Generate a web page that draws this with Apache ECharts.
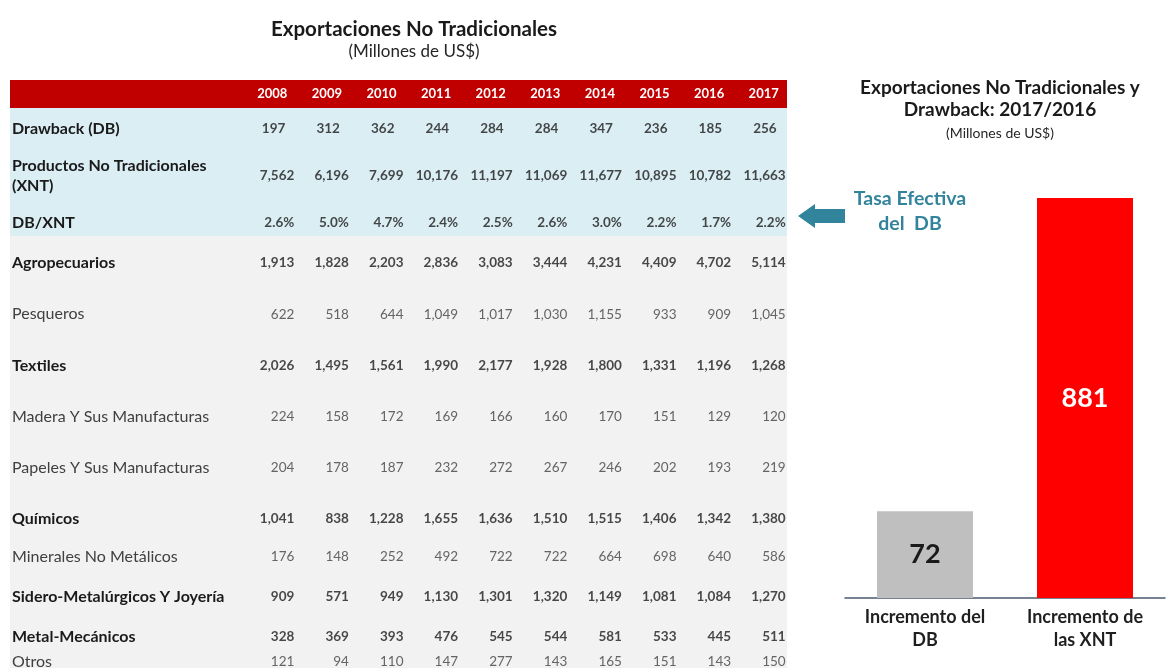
<!DOCTYPE html>
<html>
<head>
<meta charset="utf-8">
<title>Exportaciones No Tradicionales</title>
<script src="https://cdn.jsdelivr.net/npm/echarts/dist/echarts.min.js"></script>
<style>
  html, body { margin: 0; padding: 0; background: #fff; }
  #chart { width: 1174px; height: 668px; }
</style>
</head>
<body>
<div id="chart"></div>
<script>
// 数据
const years = ['2008', '2009', '2010', '2011', '2012', '2013', '2014', '2015', '2016', '2017'];
const rowNames = [
  'Drawback (DB)', 'Productos No Tradicionales\n(XNT)', 'DB/XNT',
  'Agropecuarios', 'Pesqueros', 'Textiles', 'Madera Y Sus Manufacturas', 'Papeles Y Sus Manufacturas', 'Químicos',
  'Minerales No Metálicos', 'Sidero-Metalúrgicos Y Joyería', 'Metal-Mecánicos', 'Otros'
];
const drawback = [197, 312, 362, 244, 284, 284, 347, 236, 185, 256];
const xnt = [7562, 6196, 7699, 10176, 11197, 11069, 11677, 10895, 10782, 11663];
const dbXnt = [2.6, 5.0, 4.7, 2.4, 2.5, 2.6, 3.0, 2.2, 1.7, 2.2];
const agropecuarios = [1913, 1828, 2203, 2836, 3083, 3444, 4231, 4409, 4702, 5114];
const pesqueros = [622, 518, 644, 1049, 1017, 1030, 1155, 933, 909, 1045];
const textiles = [2026, 1495, 1561, 1990, 2177, 1928, 1800, 1331, 1196, 1268];
const madera = [224, 158, 172, 169, 166, 160, 170, 151, 129, 120];
const papeles = [204, 178, 187, 232, 272, 267, 246, 202, 193, 219];
const quimicos = [1041, 838, 1228, 1655, 1636, 1510, 1515, 1406, 1342, 1380];
const minerales = [176, 148, 252, 492, 722, 722, 664, 698, 640, 586];
const sidero = [909, 571, 949, 1130, 1301, 1320, 1149, 1081, 1084, 1270];
const metalMecanicos = [328, 369, 393, 476, 545, 544, 581, 533, 445, 511];
const otros = [121, 94, 110, 147, 277, 143, 165, 151, 143, 150];
const rowValues = [drawback, xnt, dbXnt, agropecuarios, pesqueros, textiles, madera, papeles,
  quimicos, minerales, sidero, metalMecanicos, otros];

const barCategories = ['Incremento del\nDB', 'Incremento de\nlas XNT'];
const barValues = [72, 881];

// 样式
const FONT = 'Lato, "Open Sans", sans-serif';
const normalRows = ['Pesqueros', 'Madera Y Sus Manufacturas', 'Papeles Y Sus Manufacturas', 'Minerales No Metálicos', 'Otros'];
const barColors = ['#bfbfbf', '#ff0000'];
const barLabelColors = ['#1a1a1a', '#ffffff'];
const teal = '#31849b';

// 表格的行分组（每组一个 grid）
const rowGroups = [
  { from: 0, to: 3, top: 105.5, height: 141 },
  { from: 3, to: 9, top: 237.4, height: 307.2 },
  { from: 9, to: 12, top: 537, height: 120 },
  { from: 12, to: 13, top: 649.5, height: 25 }
];
const tableLeft = 245;
const tableRight = 383;

function fmt(rowIdx, v) {
  if (rowIdx === 2) return v.toFixed(1) + '%';
  return v.toLocaleString('en-US');
}

(function () {
  const myChart = echarts.init(document.getElementById('chart'));
  const grid = [], xAxis = [], yAxis = [], series = [];

  rowGroups.forEach((g, gi) => {
    grid.push({
      left: tableLeft, right: tableRight, top: g.top, height: g.height,
      containLabel: false, outerBoundsMode: 'none'
    });
    xAxis.push({
      gridIndex: gi,
      type: 'category',
      data: years,
      position: 'top',
      axisLine: { show: false },
      axisTick: { show: false },
      axisLabel: {
        show: gi === 0,
        interval: 0,
        margin: 5,
        color: '#fff',
        fontWeight: 'bold',
        fontSize: 13,
        fontFamily: FONT
      }
    });
    const names = rowNames.slice(g.from, g.to);
    yAxis.push({
      gridIndex: gi,
      type: 'category',
      inverse: true,
      data: names.map(n => {
        const normal = normalRows.includes(n);
        return {
          value: n,
          textStyle: {
            align: 'left',
            fontWeight: normal ? 'normal' : 'bold',
            color: normal ? '#404040' : '#1a1a1a'
          }
        };
      }),
      axisLine: { show: false },
      axisTick: { show: false },
      axisLabel: {
        interval: 0,
        align: 'left',
        margin: tableLeft - 12,
        fontSize: 16,
        lineHeight: 20,
        fontFamily: FONT
      }
    });
    const data = [];
    names.forEach((n, ri) => {
      const rowIdx = g.from + ri;
      const normal = normalRows.includes(n);
      rowValues[rowIdx].forEach((v, yi) => {
        data.push({
          value: [yi, ri, v],
          label: {
            fontWeight: normal ? 'normal' : 'bold',
            color: normal ? '#404040' : '#1a1a1a',
            offset: [rowIdx === 0 ? 13 : 22, 0],
            formatter: fmt(rowIdx, v)
          }
        });
      });
    });
    series.push({
      type: 'scatter',
      xAxisIndex: gi,
      yAxisIndex: gi,
      symbol: 'rect',
      symbolSize: 1,
      itemStyle: { color: 'transparent' },
      silent: true,
      label: {
        show: true,
        position: 'inside',
        align: 'right',
        verticalAlign: 'middle',
        fontSize: 13.5,
        fontFamily: FONT
      },
      data: data
    });
  });

  // 右侧柱状图
  const bi = rowGroups.length;
  grid.push({ left: 845, right: 9, top: 198, bottom: 70, containLabel: false, outerBoundsMode: 'none' });
  xAxis.push({
    gridIndex: bi,
    type: 'category',
    data: barCategories,
    axisLine: { lineStyle: { color: '#4a5a70', width: 1.5 } },
    axisTick: { show: false },
    axisLabel: {
      interval: 0,
      margin: 8,
      color: '#1f1f1f',
      fontWeight: 'bold',
      fontSize: 18,
      lineHeight: 23,
      fontFamily: FONT
    }
  });
  yAxis.push({ gridIndex: bi, type: 'log', min: 36, max: 881, show: false, splitLine: { show: false } });
  series.push({
    type: 'bar',
    xAxisIndex: bi,
    yAxisIndex: bi,
    barWidth: 96,
    clip: true,
    label: {
      show: true,
      position: 'inside',
      fontSize: 27,
      fontWeight: 'bold',
      fontFamily: FONT
    },
    data: barValues.map((v, i) => ({
      value: v,
      itemStyle: { color: barColors[i] },
      label: { color: barLabelColors[i] }
    }))
  });

  const option = {
    animation: false,
    textStyle: { fontFamily: FONT },
    grid, xAxis, yAxis, series,
    graphic: [
      // 表格底色
      { type: 'rect', z: -10, shape: { x: 10, y: 80, width: 777, height: 28 }, style: { fill: '#c00000' } },
      { type: 'rect', z: -10, shape: { x: 10, y: 108, width: 777, height: 128 }, style: { fill: '#dbeef4' } },
      { type: 'rect', z: -10, shape: { x: 10, y: 236, width: 777, height: 432 }, style: { fill: '#f2f2f2' } },
      // 标题
      { type: 'text', x: 414, y: 29, style: { text: 'Exportaciones No Tradicionales', font: 'bold 20.5px ' + FONT, fill: '#1a1a1a', align: 'center', verticalAlign: 'middle' } },
      { type: 'text', x: 414, y: 52, style: { text: '(Millones de US$)', font: '17px ' + FONT, fill: '#262626', align: 'center', verticalAlign: 'middle' } },
      { type: 'text', x: 1000, y: 99, style: { text: 'Exportaciones No Tradicionales y\nDrawback: 2017/2016', font: 'bold 19px ' + FONT, lineHeight: 22, fill: '#1a1a1a', align: 'center', verticalAlign: 'middle' } },
      { type: 'text', x: 1000, y: 133, style: { text: '(Millones de US$)', font: '14px ' + FONT, fill: '#262626', align: 'center', verticalAlign: 'middle' } },
      // 注释箭头
      { type: 'polygon', shape: { points: [[798, 216], [815, 204], [815, 209], [845, 209], [845, 223], [815, 223], [815, 228]] }, style: { fill: teal } },
      { type: 'text', x: 910, y: 211, style: { text: 'Tasa Efectiva\ndel  DB', font: 'bold 19.5px ' + FONT, lineHeight: 25, fill: teal, align: 'center', verticalAlign: 'middle' } }
    ]
  };
  myChart.setOption(option);

  // 图表自适应缩放
  window.addEventListener('resize', () => {
    myChart.resize();
  });
})();
</script>
</body>
</html>
